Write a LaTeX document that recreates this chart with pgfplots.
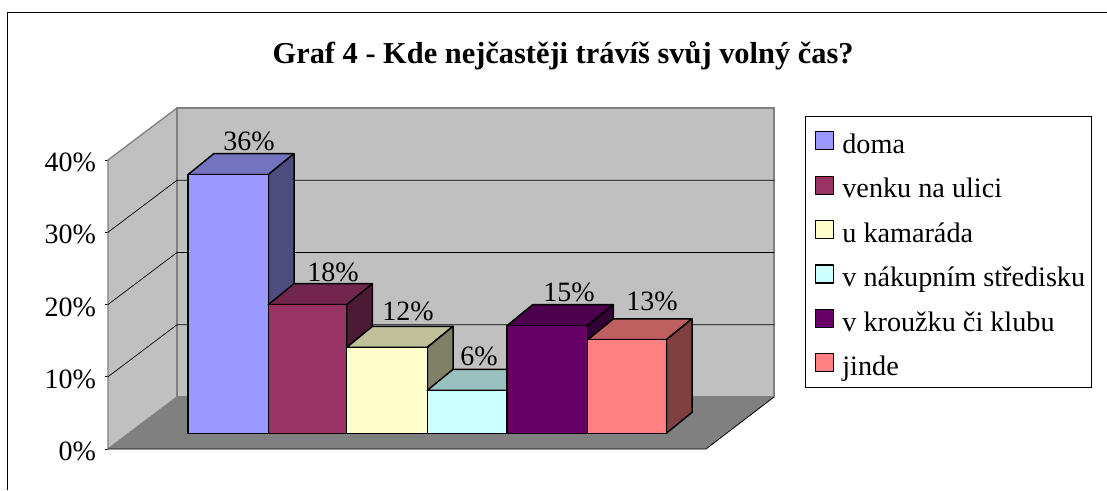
\documentclass[border=0pt]{standalone}
\usepackage{pgfplots}
\pgfplotsset{compat=1.18}
\usepackage{fontspec}
\setmainfont{Liberation Serif}
\definecolor{wall}{HTML}{C0C0C0}
\definecolor{floorc}{HTML}{808080}
\definecolor{aF}{HTML}{9999FF}\definecolor{aT}{HTML}{7373BF}\definecolor{aS}{HTML}{4D4D80}
\definecolor{bF}{HTML}{993366}\definecolor{bT}{HTML}{73264D}\definecolor{bS}{HTML}{4D1A33}
\definecolor{cF}{HTML}{FFFFCC}\definecolor{cT}{HTML}{BFBF99}\definecolor{cS}{HTML}{808066}
\definecolor{dF}{HTML}{CCFFFF}\definecolor{dT}{HTML}{99BFBF}\definecolor{dS}{HTML}{668080}
\definecolor{eF}{HTML}{660066}\definecolor{eT}{HTML}{4D004D}\definecolor{eS}{HTML}{330033}
\definecolor{fF}{HTML}{FF8080}\definecolor{fT}{HTML}{BF6060}\definecolor{fS}{HTML}{804040}
\newcommand{\TheBar}[8]{%
  \addplot[fill=#7T,draw=black,line width=1.5pt,line join=round,forget plot] coordinates {(#1,#5)(#2,#5)(#4,#6)(#3,#6)} -- cycle;
  \addplot[fill=#7S,draw=black,line width=1.5pt,line join=round,forget plot] coordinates {(#2,0)(#4,2.9)(#4,#6)(#2,#5)} -- cycle;
  \addplot[fill=#7F,draw=black,line width=1.5pt,line join=round] coordinates {(#1,0)(#2,0)(#2,#5)(#1,#5)} -- cycle;
  \addlegendentry{#8}
}
\pgfplotstableread{
x y label
249 40.4 36\%
333 22.3 18\%
408 16.9 12\%
479 10.6 6\%
569 19.5 15\%
652 18.3 13\%
}\labeltable
\begin{document}
\begin{tikzpicture}[x=1pt,y=1pt]
\path[use as bounding box] (0,0) rectangle (1107,490);
\draw[black,line width=0.9pt] (7.5,0)--(7.5,478)--(1107,478);
\begin{axis}[
  at={(108pt,41pt)},anchor=origin,
  scale only axis,width=598pt,height=289pt,
  xmin=108,xmax=706,ymin=0,ymax=40,clip=false,
  axis x line=none,axis y line=left,axis line style={-,draw=black,line width=0.7pt},
  ytick={0,10,20,30,40},
  yticklabel={\pgfmathprintnumber{\tick}\%},
  /pgf/number format/assume math mode=true,
  tick style={black,line width=0.7pt},tick align=outside,major tick length=3.5pt,
  yticklabel style={font=\fontsize{28}{30}\selectfont,xshift=-5pt,yshift=-2.5pt},
  title={\textbf{Graf 4 - Kde nejčastěji trávíš svůj volný čas?}},
  title style={at={(0.761,1.339)},anchor=center,font=\fontsize{30.4}{34}\selectfont},
]
\addplot[fill=wall,draw=floorc,line width=1.3pt,forget plot] coordinates {(108,0)(177,7.2)(177,47.2)(108,40)} -- cycle;
\addplot[fill=wall,draw=floorc,line width=1.5pt,forget plot] coordinates {(177,7.2)(774,7.2)(774,47.2)(177,47.2)} -- cycle;
\addplot[fill=floorc,draw=none,forget plot] coordinates {(108,0)(706,0)(774,7.2)(177,7.2)} -- cycle;
\addplot[black,line width=0.8pt,forget plot] coordinates {(108,0)(706,0)(774,7.2)};
\addplot[black,line width=0.7pt,forget plot] coordinates {(108,10)(177,17.2)(774,17.2)};
\addplot[black,line width=0.7pt,forget plot] coordinates {(108,20)(177,27.2)(774,27.2)};
\addplot[black,line width=0.7pt,forget plot] coordinates {(108,30)(177,37.2)(774,37.2)};
\end{axis}
\begin{axis}[
  at={(108pt,56.7pt)},anchor=origin,
  scale only axis,width=598pt,height=289pt,
  xmin=108,xmax=706,ymin=0,ymax=40,clip=false,
  axis lines=none,
  legend style={at={(1.1656,1.0973)},anchor=north west,draw=black,line width=0.7pt,
    font=\fontsize{28.2}{30}\selectfont,row sep=11.9pt,inner xsep=4pt,inner ysep=8pt,
    cells={anchor=west,inner sep=0pt,text height=27pt,text depth=0pt}},
  legend cell align=left,
  legend image code/.code={\draw[#1,line width=1.2pt] (6pt,-9pt) rectangle (24pt,9pt);\path[draw=none,fill=none] (0pt,0pt)--(31pt,0pt);},
]
\TheBar{188}{268.3}{213.7}{294}{35.8}{38.7}{a}{doma}
\TheBar{268.3}{346.7}{294}{372.4}{17.8}{20.7}{b}{venku na ulici}
\TheBar{346.7}{427.3}{372.4}{453}{11.9}{14.8}{c}{u kamaráda}
\TheBar{427.3}{507}{453}{532.7}{5.95}{8.85}{d}{v nákupním středisku}
\TheBar{507}{587.7}{532.7}{613.4}{14.9}{17.8}{e}{v kroužku či klubu}
\TheBar{587.7}{666.3}{613.4}{692}{12.95}{15.85}{f}{jinde}
\addplot[draw=none,mark=none,forget plot,nodes near coords,point meta=explicit symbolic,
  nodes near coords style={anchor=center,inner sep=0pt,font=\fontsize{28}{30}\selectfont}]
  table[x=x,y=y,meta=label] {\labeltable};
\end{axis}
\end{tikzpicture}
\end{document}
